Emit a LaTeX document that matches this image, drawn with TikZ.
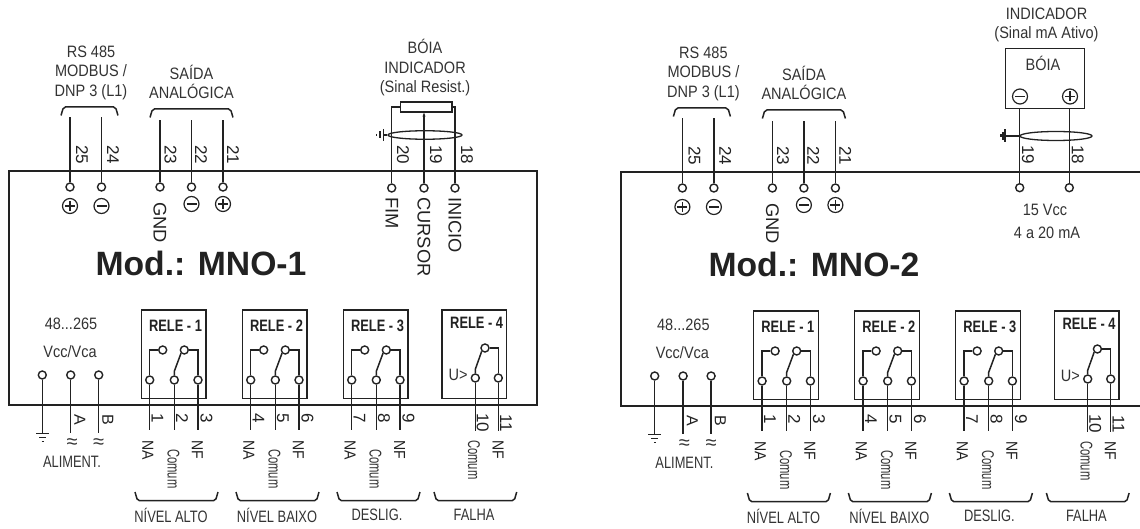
\documentclass[tikz,border=0pt]{standalone}
\usepackage{fontspec}
\setmainfont{Liberation Sans}
\newfontfamily\narrowf[FakeStretch=.78]{Liberation Sans}
\newfontfamily\slimf[FakeStretch=.66]{Liberation Sans}
\newfontfamily\midf[FakeStretch=.88]{Liberation Sans}
\usetikzlibrary{arrows.meta,shapes.geometric}
\definecolor{ink}{HTML}{222222}
\definecolor{soft}{HTML}{333333}
\tikzset{
  wire/.style={draw=ink,line width=1.5pt},
  thin wire/.style={draw=ink,line width=1.1pt},
  term/.style={circle,draw=ink,line width=1.4pt,minimum size=8pt,inner sep=0pt},
  polar/.style={circle,draw=ink,line width=1.2pt,minimum size=15pt,inner sep=0pt},
  lab/.style={inner sep=0pt,text=soft,align=center,font=\midf\fontsize{16.5}{19.5}\selectfont},
  midlab/.style={inner sep=0pt,text=soft,align=center,font=\narrowf\fontsize{16.5}{19}\selectfont},
  num/.style={inner sep=0pt,text=ink,rotate=-90,font=\fontsize{17}{17}\selectfont},
  vlab/.style={inner sep=0pt,text=ink,rotate=-90,anchor=west,font=\midf\fontsize{16}{16}\selectfont},
  bigv/.style={inner sep=0pt,text=ink,rotate=-90,anchor=west,font=\fontsize{18.3}{18}\selectfont},
  comum/.style={inner sep=0pt,text=soft,rotate=-90,anchor=west,font=\slimf\fontsize{17}{17}\selectfont},
  relay/.style={draw=ink,line width=1.3pt,inner sep=0pt,minimum width=64.7pt,minimum height=88.3pt},
  relname/.style={inner sep=0pt,text=ink,font=\narrowf\bfseries\fontsize{16.5}{16}\selectfont},
  title/.style={inner sep=0pt,text=ink,font=\bfseries\fontsize{33.7}{34}\selectfont},
  shield/.style={ellipse,draw=ink,line width=1.3pt,minimum width=74pt,minimum height=8.5pt,inner sep=0pt},
}
% polarity symbols
\newcommand{\plusat}[3]{\node[polar] (#1) at (#2,#3) {};
  \draw[thin wire] (#2-5,#3) -- (#2+5,#3) (#2,#3-5) -- (#2,#3+5);}
\newcommand{\minusat}[3]{\node[polar] (#1) at (#2,#3) {};
  \draw[thin wire] (#2-5,#3) -- (#2+5,#3);}
% brackets
\newcommand{\topbr}[3]{\draw[wire,rounded corners=2pt] (#1,#3+8.5) -- (#1+2.5,#3) -- (#2-2.5,#3) -- (#2,#3+8.5);}
\newcommand{\botbr}[2]{\draw[wire,rounded corners=2pt] (#1,492) -- (#1+2.5,500.7) -- (#2-2.5,500.7) -- (#2,492);}
% one upper terminal: prefix, x, y of circle, y of free end
\newcommand{\upterm}[4]{\node[term] (#1) at (#2,#3) {};
  \coordinate (#1e) at (#2,#4); \draw[wire] (#1) -- (#1e);}
% relays 1-3 (drawn at relay 1 position, shifted)
\newcommand{\relayc}[8]{% prefix, shift, relay no, n1,n2,n3, label, label x
\begin{scope}[shift={(#2,0)}]
  \node[relay] (#1r#3) at (173.65,354.15) {};
  \node[relname] (#1r#3t) at (175.5,326) {RELE - #3};
  \node[term] (#1r#3a) at (149.7,380) {};
  \node[term] (#1r#3b) at (174.3,380) {};
  \node[term] (#1r#3c) at (198,380) {};
  \node[term] (#1r#3n) at (162.7,350) {};
  \node[term] (#1r#3m) at (184.3,350) {};
  \coordinate (#1r#3ae) at (149.7,430);
  \coordinate (#1r#3be) at (174.3,430);
  \coordinate (#1r#3ce) at (198,430);
  \draw[wire] (#1r#3a) -- (#1r#3ae) (#1r#3b) -- (#1r#3be) (#1r#3c) -- (#1r#3ce);
  \draw[wire] (#1r#3a.north) |- (#1r#3n.west);
  \draw[wire] (#1r#3c.north) |- (#1r#3m.east);
  \draw[wire] (#1r#3b.north) -- ++(0,-4) -- (#1r#3m.south west);
  \node[num] (#1n#4) at (157.5,418) {#4};
  \node[num] (#1n#5) at (182,418) {#5};
  \node[num] (#1n#6) at (206.5,418) {#6};
  \node[vlab] (#1r#3na) at (148,440) {NA};
  \node[comum] (#1r#3co) at (173.5,449) {Comum};
  \node[vlab] (#1r#3nf) at (197.5,440) {NF};
  \botbr{135}{218}
  \node[midlab] (#1r#3l) at (#8,515) {#7};
\end{scope}}
% everything both units share
\newcommand{\unitcommon}[1]{%
  \upterm{#1t25}{70}{187}{117}
  \upterm{#1t24}{101.5}{187}{117}
  \upterm{#1t23}{160}{187}{120}
  \upterm{#1t22}{191.5}{187}{120}
  \upterm{#1t21}{223}{187}{120}
  \plusat{#1p25}{70}{206}
  \minusat{#1m24}{101.5}{206}
  \minusat{#1m22}{191.5}{204}
  \plusat{#1p21}{223}{204}
  \node[bigv] (#1gnd) at (160,202) {GND};
  \node[num] (#1n25) at (82,155) {25};
  \node[num] (#1n24) at (113,155) {24};
  \node[num] (#1n23) at (170.5,155) {23};
  \node[num] (#1n22) at (201,155) {22};
  \node[num] (#1n21) at (233,155) {21};
  \topbr{61}{118}{107}
  \topbr{150}{233}{109}
  \node[lab] (#1rs) at (91,72.5) {RS 485\\MODBUS /\\DNP 3 (L1)};
  \node[lab] (#1sa) at (191.5,82) {SAÍDA\\ANALÓGICA};
  % power
  \node[lab] (#1v1) at (71,324) {48...265};
  \node[lab] (#1v2) at (70,352) {Vcc/Vca};
  \node[term] (#1pe) at (42.3,375) {};
  \node[term] (#1pa) at (70.7,375) {};
  \node[term] (#1pb) at (98.7,375) {};
  \coordinate (#1pee) at (42.3,433);
  \coordinate (#1pae) at (70.7,433);
  \coordinate (#1pbe) at (98.7,433);
  \draw[wire] (#1pe) -- (#1pee) (#1pa) -- (#1pae) (#1pb) -- (#1pbe);
  \draw[wire] (36,433.5) -- (49,433.5) (39,437.5) -- (46,437.5);
  \draw[wire] (41.5,441.5) -- (43.5,441.5);
  \node[num,font=\fontsize{16}{16}\selectfont] (#1A) at (80,420) {A};
  \node[num,font=\fontsize{16}{16}\selectfont] (#1B) at (108,420) {B};
  \node[lab,font=\fontsize{20}{20}\selectfont] (#1ta) at (72,444) {≈};
  \node[lab,font=\fontsize{20}{20}\selectfont] (#1tb) at (98.7,444) {≈};
  \node[midlab] (#1al) at (72,462) {ALIMENT.};
  % relays
  \relayc{#1}{0}{1}{1}{2}{3}{NÍVEL ALTO}{171}
  \relayc{#1}{101}{2}{4}{5}{6}{NÍVEL BAIXO}{176}
  \relayc{#1}{202}{3}{7}{8}{9}{DESLIG.}{175}
  % relay 4
  \node[relay] (#1r4) at (474.35,354.15) {};
  \node[relname] (#1r4t) at (476.7,323) {RELE - 4};
  \node[term] (#1r4b) at (475.3,378) {};
  \node[term] (#1r4c) at (498.3,378) {};
  \node[term] (#1r4m) at (485,348) {};
  \coordinate (#1r4be) at (475.3,431);
  \coordinate (#1r4ce) at (498.3,431);
  \draw[wire] (#1r4b) -- (#1r4be) (#1r4c) -- (#1r4ce);
  \draw[wire] (#1r4c.north) |- (#1r4m.east);
  \draw[wire] (#1r4b.north) -- ++(0,-4) -- (#1r4m.south west);
  \node[lab] (#1u) at (458,375) {U>};
  \node[num] (#1n10) at (482.7,423) {10};
  \node[num] (#1n11) at (506,423) {11};
  \node[comum] (#1r4co) at (474,440) {Comum};
  \node[vlab] (#1r4nf) at (498,440) {NF};
  \botbr{434}{516.7}
  \node[midlab] (#1r4l) at (474,515) {FALHA};
}
\begin{document}
\begin{tikzpicture}[x=1pt,y=-1pt]
\useasboundingbox (0,0) rectangle (1140,529);
% ---------- unit 1 ----------
\draw[wire] (9,171) rectangle (537,405);
\node[title] (t1) at (201,263) {Mod.: MNO-1};
\unitcommon{a}
\node[term] (afim) at (391.7,188) {};
\node[term] (acur) at (424,188) {};
\node[term] (aini) at (455,188) {};
\node[draw=ink,line width=1.3pt,inner sep=0pt,minimum width=51.3pt,minimum height=10pt] (ares) at (426.3,107) {};
\draw[wire] (afim.north) |- (ares.west);
\draw[wire] (aini.north) |- (ares.east);
\draw[wire,-{Stealth[length=4pt,width=3pt]}] (acur.north) -- (acur |- ares.south);
\node[shield] (ash) at (425,135) {};
\coordinate (agnd0) at (383.3,135);
\draw[wire] (ash.west) -- (agnd0);
\draw[wire] (383.3,129) -- (383.3,141) (380,131.5) -- (380,138.5) (376.5,134) -- (376.5,136);
\node[num] (an20) at (403,155) {20};
\node[num] (an19) at (436,155) {19};
\node[num] (an18) at (467,155) {18};
\node[lab] (aboia) at (425,68) {BÓIA\\INDICADOR\\(Sinal Resist.)};
\node[bigv] (afimt) at (392,197) {FIM};
\node[bigv] (acurt) at (424,197) {CURSOR};
\node[bigv] (ainit) at (455,197) {INICIO};
% ---------- unit 2 ----------
\draw[wire] (1140,172) -- (621,172) -- (621,406) -- (1140,406);
\node[title] (t2) at (814,264) {Mod.: MNO-2};
\begin{scope}[shift={(612.4,1)}]
\unitcommon{b}
\end{scope}
\node[draw=ink,line width=1.3pt,inner sep=0pt,minimum width=79pt,minimum height=60pt] (bbox) at (1044.8,78.3) {};
\node[lab] (bind) at (1046.5,25) {INDICADOR\\(Sinal mA Ativo)};
\node[lab] (bboia) at (1043,63) {BÓIA};
\minusat{bmi}{1020}{96.5}
\plusat{bpl}{1070}{96.5}
\node[term] (bt19) at (1019.7,187.7) {};
\node[term] (bt18) at (1069.3,187.7) {};
\draw[wire] (bt19) -- (bt19 |- bbox.south);
\draw[wire] (bt18) -- (bt18 |- bbox.south);
\node[shield,minimum width=72pt,minimum height=9pt] (bsh) at (1056,136) {};
\coordinate (bgnd0) at (1001,136);
\draw[wire] (bsh.west) -- (bgnd0);
\draw[wire] (1005,129.5) -- (1005,142.5) (1003,132) -- (1003,140) (1001,134.5) -- (1001,137.5);
\node[num] (bn19) at (1028,155) {19};
\node[num] (bn18) at (1077.7,155) {18};
\node[lab] (bv1) at (1045,210) {15 Vcc};
\node[lab] (bv2) at (1047,232.7) {4 a 20 mA};
\end{tikzpicture}
\end{document}
